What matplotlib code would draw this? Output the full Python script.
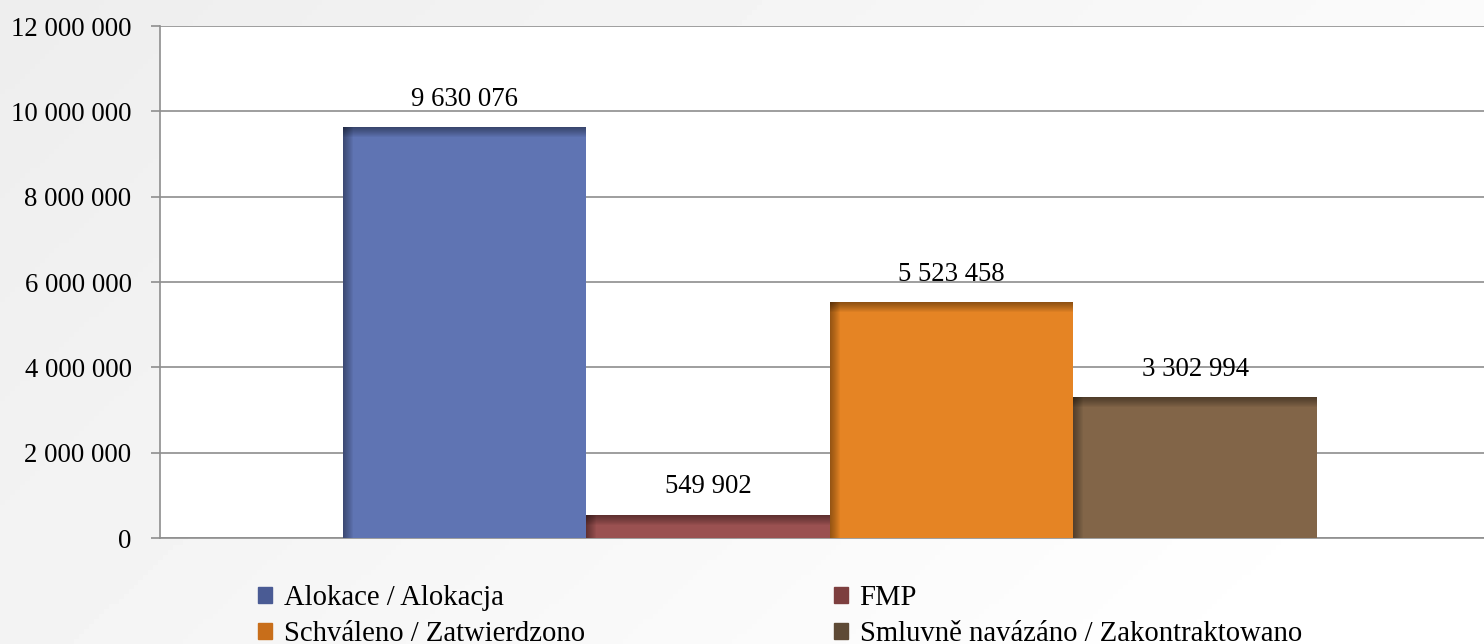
import numpy as np
import matplotlib
matplotlib.use('Agg')
import matplotlib.pyplot as plt
from matplotlib.ticker import FuncFormatter

# data
series = ['Alokace / Alokacja', 'FMP', 'Schváleno / Zatwierdzono',
          'Smluvně navázáno / Zakontraktowano']
values = [9630076, 549902, 5523458, 3302994]
colors = ['#5f74b3', '#9a5151', '#e58424', '#826548']
y_ticks = [0, 2000000, 4000000, 6000000, 8000000, 10000000, 12000000]

plt.rcParams['font.family'] = ['Liberation Serif', 'DejaVu Serif']


def fmt(v, pos=None):
    return '{:,}'.format(int(v)).replace(',', ' ')


W, H = 1484, 644
fig = plt.figure(figsize=(W / 100, H / 100), dpi=100)

# light gray gradient background
bg = fig.add_axes([0, 0, 1, 1], zorder=-10)
gx = np.linspace(0, 1, 300)
gy = np.linspace(0, 1, 130)
X, Y = np.meshgrid(gx, gy)
grad = 0.93 + 0.07 * np.clip(0.75 * X + 0.35 * Y, 0, 1)
bg.imshow(grad, cmap='gray', vmin=0, vmax=1, aspect='auto', extent=[0, 1, 0, 1])
bg.axis('off')

ax = fig.add_axes([160 / W, (H - 538) / H, (W - 160) / W, (538 - 26) / H])
ax.set_facecolor('white')

x = np.arange(len(values))
bars = ax.bar(x, values, width=1.0, color=colors, zorder=3)

# soft inner shadow on top and left edge
px_y = 12000000 / 512
px_x = 1 / 243.5
for xi, v in zip(x, values):
    for k in range(10):
        h = (10 - k) * px_y
        ax.bar(xi, h, bottom=v - h, width=1.0, color='black', alpha=0.045,
               zorder=4, linewidth=0)
        w = (10 - k) * px_x
        ax.bar(xi - 0.5 + w / 2, v, width=w, color='black', alpha=0.04,
               zorder=4, linewidth=0)

for xi, v in zip(x, values):
    ax.annotate(fmt(v), (xi, v), xytext=(0, 20), textcoords='offset points',
                ha='center', va='center', fontsize=19.3, color='black')

ax.set_xlim(-1.2515, 4.186)
ax.set_ylim(0, 12000000)
ax.set_yticks(y_ticks)
ax.yaxis.set_major_formatter(FuncFormatter(fmt))
ax.set_xticks([])
ax.grid(axis='y', color='#8e8e8e', linewidth=1.2, zorder=0)
for s in ['top', 'right']:
    ax.spines[s].set_visible(False)
ax.spines['left'].set_color('#8e8e8e')
ax.spines['left'].set_linewidth(1.2)
ax.spines['bottom'].set_color('#8e8e8e')
ax.spines['bottom'].set_linewidth(1.2)
ax.tick_params(axis='y', length=6.5, width=1.2, color='#8e8e8e', pad=14,
               labelsize=19.3)

leg_colors = ['#4a5b94', '#7d3f3f', '#c86e1a', '#5e4a36']
handles = [plt.Rectangle((0, 0), 1, 1, color=c) for c in leg_colors]
order = [0, 2, 1, 3]
leg = fig.legend([handles[i] for i in order], [series[i] for i in order],
                 ncol=2, loc='upper left', bbox_to_anchor=(258 / W, 1 - 585 / H),
                 frameon=False, fontsize=20.6, handlelength=0.5,
                 handleheight=0.5, handletextpad=0.4, labelspacing=0.35,
                 columnspacing=8.7, borderpad=0, borderaxespad=0)

fig.savefig('out.png', dpi=100, facecolor=fig.get_facecolor())
